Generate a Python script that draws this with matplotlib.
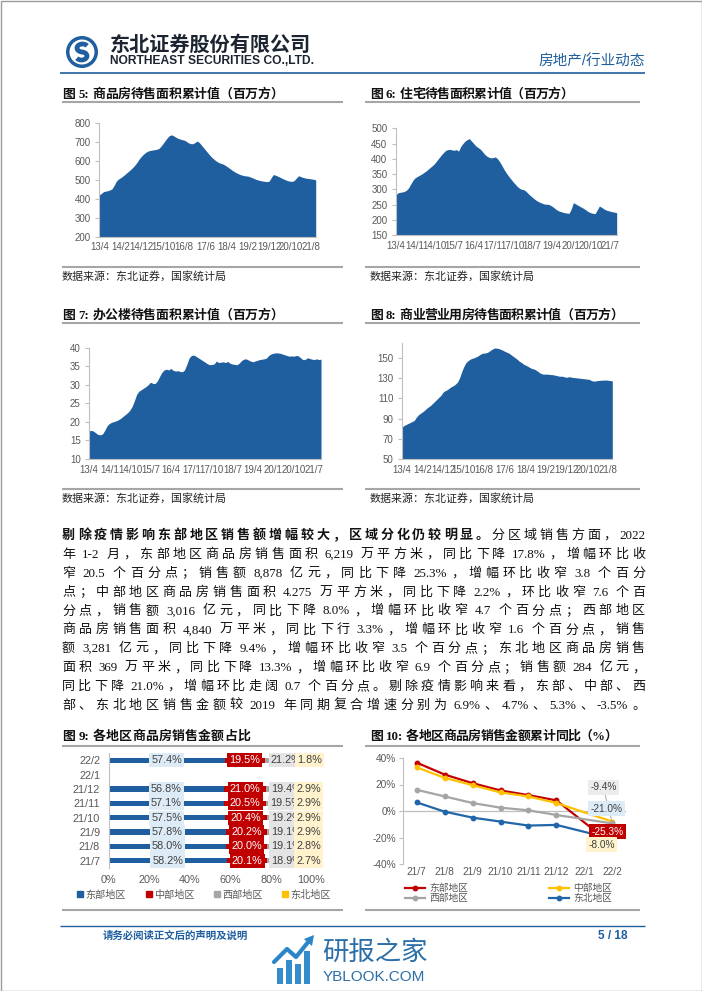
import matplotlib
matplotlib.use('Agg')
import matplotlib.pyplot as plt
import numpy as np
from matplotlib.patches import Rectangle, Circle, Arc, Polygon
from matplotlib.lines import Line2D

plt.rcParams['font.family'] = ['Liberation Sans', 'Noto Sans CJK SC']
plt.rcParams['axes.unicode_minus'] = False

W, H = 702, 991
BLUE = '#1f5f9f'
GRAY = '#595959'
LINE = '#bfbfbf'
SERIF = ['Liberation Serif', 'Noto Sans CJK SC']
SANS = ['Liberation Sans', 'Noto Sans CJK SC']

# ---- area chart data (monthly, 13/4 ... 21/10), million sq m
stock_all = [420, 428, 437, 440, 442, 446, 452, 470, 492, 503,
             510, 518, 527, 537, 546, 556, 567, 580, 595, 612,
             625, 636, 645, 651, 654, 656, 658, 660, 664, 675,
             690, 705, 720, 732, 736, 731, 724, 718, 714, 711,
             708, 702, 694, 690, 689, 695, 703, 697, 684, 670,
             657, 643, 630, 618, 608, 599, 592, 587, 584, 578,
             571, 563, 555, 547, 540, 534, 529, 525, 522, 520,
             519, 515, 511, 506, 501, 498, 495, 493, 491, 490,
             492, 510, 527, 524, 519, 514, 508, 503, 498, 494,
             492, 491, 497, 510, 521, 516, 512, 509, 507, 506,
             504, 502, 499]
stock_res = [281, 288, 290, 291, 293, 297, 305, 318, 330, 338,
             342, 346, 350, 355, 360, 366, 372, 378, 385, 394,
             403, 412, 420, 427, 430, 431, 429, 428, 430, 425,
             440, 450, 458, 463, 466, 458, 450, 442, 437, 432,
             424, 415, 409, 405, 403, 404, 406, 400, 390, 378,
             365, 354, 344, 335, 326, 318, 310, 304, 300, 299,
             294, 287, 280, 274, 268, 263, 259, 256, 253, 251,
             251, 249, 245, 240, 234, 230, 227, 225, 223, 222,
             221, 235, 256, 252, 248, 244, 240, 236, 231, 226,
             223, 221, 220, 232, 245, 241, 236, 232, 230, 228,
             226, 225, 223]
stock_off = [17.6, 17.7, 17.5, 17.0, 16.6, 16.5, 16.8, 17.8, 19.0, 19.6,
             19.9, 20.1, 20.3, 20.6, 21.0, 21.5, 22.0, 22.5, 23.2, 24.2,
             25.8, 27.5, 28.3, 28.7, 29.1, 29.5, 30.0, 30.7, 30.4, 30.3,
             31.0, 32.2, 33.3, 34.0, 34.2, 34.0, 34.4, 33.9, 33.7, 33.8,
             33.6, 33.5, 34.0, 35.5, 37.2, 37.9, 38.0, 37.7, 37.3, 36.9,
             36.5, 36.1, 35.7, 35.4, 35.5, 35.6, 36.4, 36.0, 36.1, 36.2,
             36.0, 36.3, 35.8, 35.6, 35.5, 35.4, 35.8, 36.5, 36.9, 37.0,
             36.7, 36.4, 36.2, 36.4, 36.6, 36.8, 36.9, 37.0, 37.2, 37.9,
             38.3, 38.5, 38.6, 38.6, 38.5, 38.3, 38.1, 37.9, 37.7, 37.8,
             37.7, 37.9, 37.8, 37.3, 36.8, 36.8, 37.3, 37.1, 36.9, 36.8,
             37.0, 36.8, 36.9]
stock_com = [81, 83, 84, 85, 86, 87, 88, 91, 93.5, 95,
             96.5, 98, 100, 101.5, 103, 105, 107, 109, 111, 113,
             116, 117.5, 118.5, 120, 121.5, 122.5, 124, 126, 130, 136,
             141, 145, 147, 148.5, 149.5, 150, 151, 152, 153.5, 154.5,
             154.8, 155, 156, 157.5, 158.8, 159.8, 159.6, 159.2, 158.4, 157.5,
             156.4, 155.5, 154.6, 153, 151.5, 150, 148.5, 146.5, 145.5, 143.8,
             142.8, 141.8, 140.5, 139.5, 139, 138, 136.5, 135, 134.2, 133.8,
             134, 133.8, 133.5, 133.4, 133, 132.5, 132, 131.8, 131.8, 131,
             130.8, 131.4, 131, 130.6, 130.4, 130.2, 129.9, 129.7, 129.4, 129.2,
             129, 128.6, 127.4, 127, 127.2, 127.6, 127.8, 128, 128, 128.1,
             127.8, 127.6, 127.2]

# month categories 13/4 onwards
months = []
yy, mm = 13, 4
for _ in range(len(stock_all)):
    months.append(f'{yy}/{mm}')
    mm += 1
    if mm > 12:
        mm, yy = 1, yy + 1

ticks10 = ['13/4', '14/2', '14/12', '15/10', '16/8', '17/6', '18/4', '19/2', '19/12', '20/10', '21/8']
ticks9 = ['13/4', '14/1', '14/10', '15/7', '16/4', '17/1', '17/10', '18/7', '19/4', '20/1', '20/10', '21/7']

# ---- regional sales data
cats = ['21/7', '21/8', '21/9', '21/10', '21/11', '21/12', '22/1', '22/2']
regions = ['东部地区', '中部地区', '西部地区', '东北地区']
share_east = [58.2, 58.0, 57.8, 57.5, 57.1, 56.8, np.nan, 57.4]
share_mid = [20.1, 20.0, 20.2, 20.4, 20.5, 21.0, np.nan, 19.5]
share_west = [18.9, 19.1, 19.1, 19.2, 19.5, 19.4, np.nan, 21.2]
share_ne = [2.7, 2.8, 2.9, 2.9, 2.9, 2.9, np.nan, 1.8]
yoy_east = [36.5, 27.5, 21.0, 15.5, 12.0, 8.0, np.nan, -25.3]
yoy_mid = [33.0, 25.0, 19.5, 14.0, 11.0, 6.0, np.nan, -8.0]
yoy_west = [16.0, 11.0, 6.0, 2.5, 0.5, -3.0, np.nan, -9.4]
yoy_ne = [6.5, -0.5, -5.0, -8.0, -11.0, -10.5, np.nan, -21.0]

para = [
    [('剔除疫情影响东部地区销售额增幅较大，区域分化仍较明显。', True), ('分区域销售方面，2022', False)],
    [('年 1-2 月，东部地区商品房销售面积 6,219 万平方米，同比下降 17.8%，增幅环比收', False)],
    [('窄 20.5 个百分点；销售额 8,878 亿元，同比下降 25.3%，增幅环比收窄 3.8 个百分', False)],
    [('点；中部地区商品房销售面积 4.275 万平方米，同比下降 2.2%，环比收窄 7.6 个百', False)],
    [('分点，销售额 3,016 亿元，同比下降 8.0%，增幅环比收窄 4.7 个百分点；西部地区', False)],
    [('商品房销售面积 4,840 万平米，同比下行 3.3%，增幅环比收窄 1.6 个百分点，销售', False)],
    [('额 3,281 亿元，同比下降 9.4%，增幅环比收窄 3.5 个百分点；东北地区商品房销售', False)],
    [('面积 369 万平米，同比下降 13.3%，增幅环比收窄 6.9 个百分点；销售额 284 亿元，', False)],
    [('同比下降 21.0%，增幅环比走阔 0.7 个百分点。剔除疫情影响来看，东部、中部、西', False)],
    [('部、东北地区销售金额较 2019 年同期复合增速分别为 6.9%、4.7%、5.3%、-3.5%。', False)],
]

fig = plt.figure(figsize=(W / 100, H / 100), dpi=100)
page = fig.add_axes([0, 0, 1, 1], zorder=0)
page.set_xlim(0, W)
page.set_ylim(H, 0)
page.axis('off')
rend = fig.canvas.get_renderer()


def box(l, t, r, b):
    return fig.add_axes([l / W, 1 - b / H, (r - l) / W, (b - t) / H])


def spread(x0, x1, yc, parts, size, color='#111111', family=SERIF, sp=3.5):
    # justified line: tokens spaced evenly, a blank adds a fixed width
    toks = []
    pending = 0
    for s, bold in parts:
        buf = ''
        for ch in s:
            if ch == ' ' or ord(ch) >= 128:
                if buf:
                    toks.append((buf, bold, pending))
                    buf, pending = '', 0
                if ch == ' ':
                    pending += sp
                else:
                    toks.append((ch, bold, pending))
                    pending = 0
            else:
                buf += ch
        if buf:
            toks.append((buf, bold, pending))
            pending = 0
    base = yc + 0.37 * size * 100 / 72
    arts, widths, extra = [], [], []
    for t, bold, pre in toks:
        a = page.text(0, base, t, fontsize=size, family=family, color=color,
                      fontweight='bold' if bold else 'normal', ha='left', va='baseline')
        arts.append(a)
        widths.append(a.get_window_extent(renderer=rend).width)
        extra.append(pre)
    gap = (x1 - x0 - sum(widths) - sum(extra)) / (len(toks) - 1)
    x = x0
    for k, (a, w) in enumerate(zip(arts, widths)):
        if k:
            x += gap + extra[k]
        a.set_x(x)
        x += w


def fit(x0, x1, yc, s, **kw):
    t = page.text(x0, yc, s, ha='left', va='center', fontsize=10, **kw)
    w = t.get_window_extent(renderer=rend).width
    t.set_fontsize(10 * (x1 - x0) / w)
    return t


def hline(x0, x1, y, color='#a6a6a6', lw=1.5):
    page.plot([x0, x1], [y, y], color=color, lw=lw, solid_capstyle='butt')


# ---- page frame, header
page.add_patch(Rectangle((0.5, 0.5), W - 1, H - 1, fill=False, ec='#9a9a9a', lw=1))
page.add_patch(Circle((82, 52), 16, fc=BLUE, ec='none'))
page.add_patch(Circle((82, 52), 12.5, fc='white', ec='none'))
page.add_patch(Arc((82.5, 48.0), 11, 8, theta1=90, theta2=335, lw=3.4, color=BLUE))
page.add_patch(Arc((81.5, 56.0), 11, 8, theta1=-90, theta2=155, lw=3.4, color=BLUE))
fit(110, 311, 45.5, '东北证券股份有限公司', fontweight='bold', color='#1b2430', family=SANS)
fit(110, 313, 61.5, 'NORTHEAST SECURITIES CO.,LTD.', fontweight='bold', color='#1b2430', family=SANS)
page.text(645, 62, '房地产/行业动态', ha='right', va='center', fontsize=10.5, color=BLUE, family=SANS)
hline(60, 645, 73, color=BLUE, lw=1.2)

# ---- titles and rules
spread(62, 283, 93, [('图 5: 商品房待售面积累计值（百万方）', True)], 9.3)
spread(370, 573, 93, [('图 6: 住宅待售面积累计值（百万方）', True)], 9.3)
spread(62, 283, 314, [('图 7: 办公楼待售面积累计值（百万方）', True)], 9.3)
spread(370, 623, 314, [('图 8: 商业营业用房待售面积累计值（百万方）', True)], 9.3)
spread(62, 250, 735, [('图 9: 各地区商品房销售金额占比', True)], 9.3)
spread(370, 617, 735, [('图 10: 各地区商品房销售金额累计同比（%）', True)], 9.3)
for y in [102, 267, 323, 489, 746, 910]:
    hline(62, 343, y)
    hline(365, 640, y)
for x, y in [(62, 276), (370, 276), (62, 498), (370, 498)]:
    page.text(x, y, '数据来源：东北证券，国家统计局', fontsize=7.9, family=SERIF,
              color='#222222', va='center', ha='left')

# ---- paragraph
for i, parts in enumerate(para):
    spread(62, 645, 534 + i * 18.9, parts, 9.4)

# ---- footer and watermark
hline(60, 645, 926, color=BLUE, lw=1)
page.text(103, 936, '请务必阅读正文后的声明及说明', fontsize=7.5, fontweight='bold',
          color=BLUE, family=SANS, va='center', ha='left')
page.text(628, 936, '5 / 18', fontsize=8.5, fontweight='bold', color=BLUE,
          family=SANS, va='center', ha='right')
WM = '#2a86c9'
for bx, bh in [(277, 16), (286, 24), (295, 20), (304, 33)]:
    page.add_patch(Rectangle((bx, 984 - bh), 6, bh, fc=WM, ec='none', alpha=0.95))
page.plot([274, 287, 296, 309], [962, 949, 957, 941], color=WM, lw=3, solid_capstyle='round')
page.add_patch(Polygon([[304, 939], [314, 935], [312, 946]], closed=True, fc=WM, ec='none'))
page.text(322, 953, '研报之家', fontsize=19, color='#2b6fa8', family=SANS,
          va='center', ha='left')
fit(323, 425, 977, 'YBLOOK.COM', color='#2b6fa8', family=SANS)


# ---- area charts
def area(ax, vals, ylim, yticks, labels):
    x = np.arange(len(vals))
    ax.fill_between(x, vals, ylim[0], color=BLUE, lw=0)
    ax.set_xlim(0, len(vals) - 1)
    ax.set_ylim(*ylim)
    ax.set_yticks(yticks)
    ax.set_xticks([months.index(s) for s in labels], labels)
    ax.patch.set_alpha(0)
    for s in ['top', 'right']:
        ax.spines[s].set_visible(False)
    for s in ['left', 'bottom']:
        ax.spines[s].set_color(LINE)
        ax.spines[s].set_linewidth(0.8)
    ax.tick_params(axis='y', length=3, width=0.8, color=LINE, labelsize=7,
                   labelcolor=GRAY, pad=3)
    ax.tick_params(axis='x', length=0, labelsize=7, labelcolor=GRAY, pad=4)


area(box(99.3, 122.7, 315.7, 236.7), stock_all, (200, 800), range(200, 801, 100), ticks10)
area(box(395.7, 128.3, 616.7, 235), stock_res, (150, 500), range(150, 501, 50), ticks9)
area(box(89, 347.7, 321, 459), stock_off, (10, 40), range(10, 41, 5), ticks9)
area(box(401.7, 342.7, 612.3, 459), stock_com, (50, 165), range(50, 151, 20), ticks10)

# ---- chart 9: share of sales by region
ax9 = box(108.5, 753, 311.5, 868)
ax9.patch.set_alpha(0)
yy9 = np.arange(len(cats))
left = np.zeros(len(cats))
styles9 = [(share_east, BLUE, '#ddebf7', '#404040'),
           (share_mid, '#c00000', '#c00000', 'white'),
           (share_west, '#a6a6a6', '#e4e4e4', '#404040'),
           (share_ne, '#ffc000', '#fff2cc', '#404040')]
for vals, col, fc, tc in styles9:
    v = np.array(vals)
    ax9.barh(yy9, v, left=left, height=0.36, color=col, lw=0)
    for yi, vi, li in zip(yy9, v, left):
        if np.isnan(vi):
            continue
        ax9.text(li + vi / 2, yi, f'{vi:.1f}%', ha='center', va='center', fontsize=7.8,
                 color=tc, bbox=dict(boxstyle='square,pad=0.2', fc=fc, ec='none'))
    left = left + np.nan_to_num(v)
ax9.set_xlim(0, 100)
ax9.set_ylim(-0.5, len(cats) - 0.5)
ax9.set_xticks(range(0, 101, 20), [f'{t}%' for t in range(0, 101, 20)])
ax9.set_yticks(yy9, cats)
for s in ['top', 'right', 'bottom']:
    ax9.spines[s].set_visible(False)
ax9.spines['left'].set_color(LINE)
ax9.spines['left'].set_linewidth(0.8)
ax9.tick_params(axis='x', length=0, labelsize=7.8, labelcolor=GRAY, pad=5)
ax9.tick_params(axis='y', length=0, labelsize=7.8, labelcolor=GRAY, pad=6)
h9 = [Line2D([], [], marker='s', ls='none', color=c, markersize=4)
      for c in [BLUE, '#c00000', '#a6a6a6', '#ffc000']]
ax9.legend(h9, regions, loc='center', bbox_to_anchor=(0.47, -0.235), ncol=4,
           frameon=False, fontsize=7.3, handlelength=0.7, handletextpad=0.15,
           columnspacing=1.9, borderpad=0, labelcolor=GRAY)

# ---- chart 10: cumulative yoy
ax10 = box(402.7, 758, 626.3, 864)
ax10.patch.set_alpha(0)
xx = np.arange(len(cats))
series10 = [(yoy_east, '#c00000'), (yoy_mid, '#ffc000'),
            (yoy_west, '#a5a5a5'), (yoy_ne, '#2166a8')]
hand = []
for vals, col in series10:
    v = np.array(vals)
    ok = ~np.isnan(v)
    ln, = ax10.plot(xx[ok], v[ok], color=col, lw=1.6, marker='o', markersize=3.2, zorder=3)
    hand.append(ln)
ax10.axhline(0, color=LINE, lw=0.9, zorder=1)
ax10.set_xlim(-0.5, len(cats) - 0.5)
ax10.set_ylim(-40, 40)
ax10.set_yticks(range(-40, 41, 20), [f'{t}%' for t in range(-40, 41, 20)])
ax10.set_xticks(xx, cats)
for s in ['top', 'right', 'bottom']:
    ax10.spines[s].set_visible(False)
ax10.spines['left'].set_color(LINE)
ax10.spines['left'].set_linewidth(0.8)
ax10.tick_params(axis='y', length=3, width=0.8, color=LINE, labelsize=7.3, labelcolor=GRAY, pad=2)
ax10.tick_params(axis='x', length=0, labelsize=7.3, labelcolor=GRAY, pad=2.5)
last = len(cats) - 1
notes = [(yoy_west, '#ececec', '#404040', (-9, 36), True),
         (yoy_ne, '#ddebf7', '#404040', (-6, 30), False),
         (yoy_east, '#c00000', 'white', (-5, 13), False),
         (yoy_mid, '#fff2cc', '#404040', (-11, -23), False)]
for vals, fc, tc, off, lead in notes:
    v = vals[last]
    ax10.annotate(f'{v:.1f}%', xy=(last, v), xytext=off, textcoords='offset pixels',
                  ha='center', va='center', fontsize=7.3, color=tc, zorder=5,
                  bbox=dict(boxstyle='square,pad=0.25', fc=fc, ec='none'),
                  arrowprops=dict(arrowstyle='-', color='#a6a6a6', lw=0.7,
                                  shrinkA=0, shrinkB=0) if lead else None)
ax10.legend([hand[0], hand[2], hand[1], hand[3]],
            [regions[0], regions[2], regions[1], regions[3]],
            loc='upper left', bbox_to_anchor=(0.01, -0.18), ncol=2, frameon=False,
            fontsize=7, handlelength=2.1, handletextpad=0.4, columnspacing=8.3,
            labelspacing=0.0, borderpad=0, borderaxespad=0, labelcolor=GRAY)

fig.savefig('out.png', dpi=100)
